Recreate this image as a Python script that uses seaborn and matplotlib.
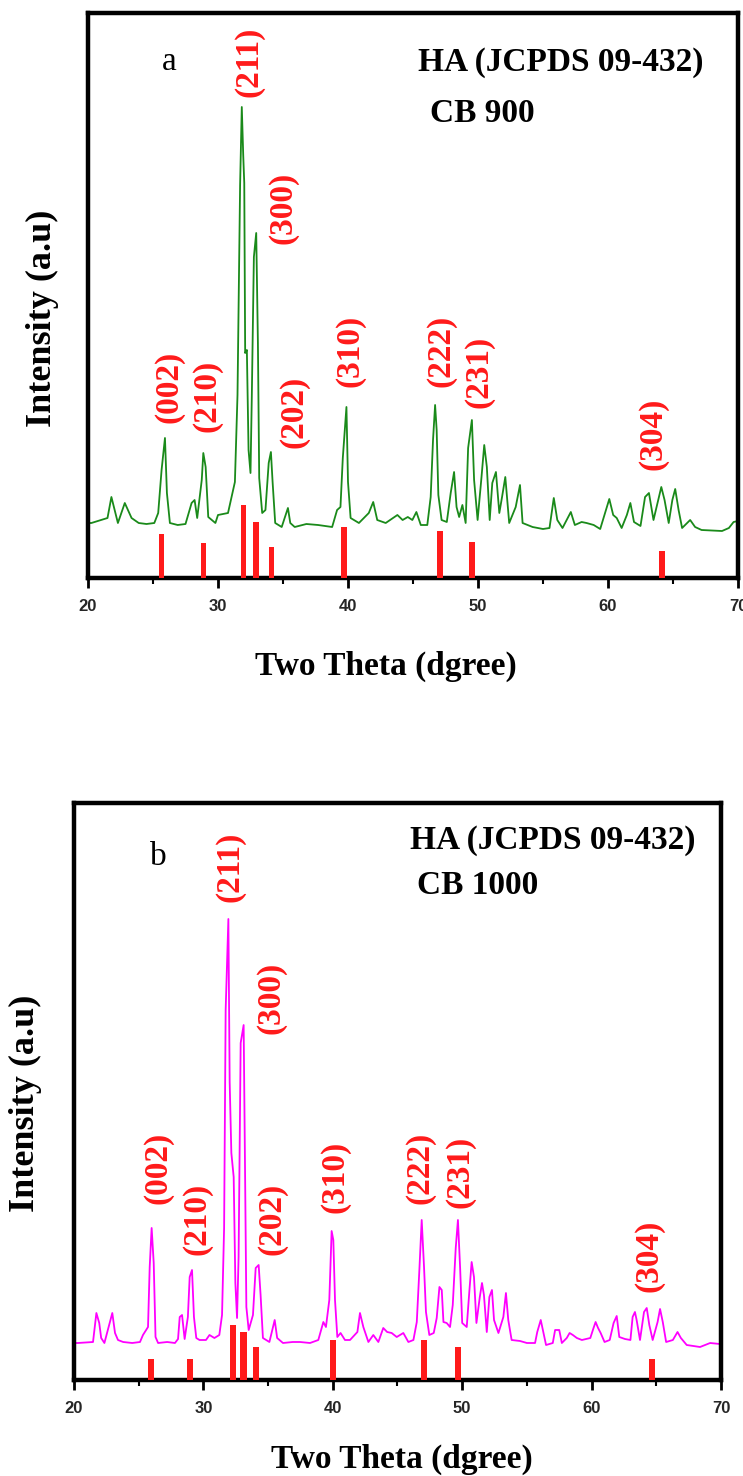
import matplotlib
matplotlib.use("Agg")
import matplotlib.pyplot as plt
from matplotlib.ticker import MultipleLocator
import matplotlib.font_manager as fm
import seaborn as sns

# ---- data (2theta, intensity in arbitrary units) ----
two_theta_a = [20.0, 20.26, 21.5, 21.8, 22.3, 22.83, 23.35, 23.9, 24.5, 25.1, 25.4, 25.66, 25.92, 26.07, 26.3,
               26.9, 27.5, 27.97, 28.2, 28.4, 28.75, 28.87, 29.05, 29.25, 29.8, 30.0, 30.77, 31.3, 31.5, 31.7,
               31.83, 31.94, 32.02, 32.09, 32.22, 32.35, 32.5, 32.6, 32.76, 32.94, 33.07, 33.17, 33.4, 33.65,
               33.9, 34.07, 34.2, 34.4, 34.9, 35.38, 35.56, 35.9, 36.8, 37.7, 38.78, 39.16, 39.42, 39.6, 39.88,
               40.0, 40.2, 40.84, 41.6, 41.94, 42.25, 42.9, 43.8, 44.2, 44.6, 44.95, 45.26, 45.6, 46.1, 46.36,
               46.54, 46.7, 46.82, 46.95, 47.2, 47.6, 47.9, 48.16, 48.35, 48.55, 48.8, 49.05, 49.24, 49.53,
               49.7, 49.97, 50.27, 50.48, 50.68, 50.9, 51.1, 51.38, 51.64, 51.85, 52.1, 52.4, 52.9, 53.23,
               53.43, 54.2, 55.0, 55.5, 55.83, 56.1, 56.5, 57.14, 57.45, 57.97, 58.35, 58.9, 59.4, 59.8, 60.1,
               60.4, 60.67, 61.05, 61.45, 61.72, 62.0, 62.5, 62.85, 63.15, 63.5, 63.9, 64.1, 64.35, 64.67,
               64.95, 65.17, 65.43, 65.7, 66.32, 66.7, 67.2, 68.77, 69.3, 69.66, 70.0]
intensity_a = [55, 55, 60, 81, 55, 75, 60, 55, 54, 55, 65, 108, 140, 85, 55,
               53, 54, 75, 78, 60, 98, 125, 111, 61, 55, 63, 65, 96, 183, 393,
               471, 423, 395, 225, 228, 128, 105, 181, 321, 345, 235, 100, 65, 68,
               115, 126, 96, 55, 51, 70, 55, 51, 54, 53, 51, 68, 71, 120, 171,
               96, 60, 55, 65, 76, 58, 55, 63, 58, 61, 58, 66, 53, 53, 81,
               138, 173, 148, 83, 58, 56, 85, 106, 71, 61, 73, 55, 130, 158,
               98, 58, 101, 133, 111, 58, 95, 106, 65, 81, 101, 55, 71, 93,
               55, 51, 49, 50, 80, 58, 50, 66, 53, 56, 55, 53, 49, 66, 79,
               63, 60, 50, 63, 75, 56, 52, 81, 85, 58, 80, 91, 78, 55,
               78, 89, 68, 50, 58, 51, 48, 47, 50, 56, 57]

two_theta_b = [20.0, 20.3, 21.47, 21.73, 21.95, 22.1, 22.35, 22.76, 22.96, 23.17, 23.4, 23.8, 24.5, 25.1,
               25.33, 25.72, 25.85, 26.0, 26.16, 26.3, 26.5, 27.2, 27.8, 28.04, 28.17, 28.35, 28.55, 28.8,
               28.94, 29.12, 29.27, 29.45, 29.7, 30.2, 30.47, 30.85, 31.23, 31.44, 31.6, 31.72, 31.93, 32.03,
               32.16, 32.34, 32.47, 32.6, 32.72, 32.88, 33.11, 33.21, 33.32, 33.5, 33.83, 34.04, 34.27, 34.42,
               34.6, 35.1, 35.51, 35.7, 36.15, 36.9, 37.47, 38.24, 38.88, 39.27, 39.47, 39.73, 39.91, 40.04,
               40.17, 40.35, 40.6, 40.94, 41.33, 41.9, 42.1, 42.36, 42.75, 43.13, 43.52, 43.9, 44.2, 44.55,
               44.94, 45.45, 45.84, 46.23, 46.49, 46.69, 46.87, 47.05, 47.2, 47.46, 47.8, 48.03, 48.24, 48.42,
               48.55, 48.8, 49.06, 49.27, 49.5, 49.67, 49.84, 50.0, 50.35, 50.56, 50.73, 50.91, 51.1, 51.36,
               51.53, 51.68, 51.9, 52.1, 52.3, 52.46, 52.8, 53.18, 53.38, 53.56, 53.82, 54.47, 55.0, 55.63,
               55.8, 56.07, 56.27, 56.48, 57.0, 57.18, 57.5, 57.7, 58.08, 58.3, 58.55, 58.86, 59.25, 59.9,
               60.15, 60.31, 60.5, 60.7, 61.0, 61.4, 61.7, 61.94, 62.14, 62.58, 63.0, 63.17, 63.35, 63.48,
               63.74, 64.05, 64.26, 64.46, 64.72, 65.1, 65.29, 65.5, 65.76, 66.28, 66.64, 66.9, 67.35, 68.38,
               69.16, 69.92]
intensity_b = [37, 37, 38, 67, 57, 42, 37, 57, 67, 47, 40, 38, 37, 38,
               45, 53, 113, 152, 117, 43, 37, 38, 37, 41, 63, 65, 41, 63,
               103, 110, 63, 42, 40, 40, 45, 42, 45, 65, 152, 370, 461, 298,
               227, 203, 97, 62, 123, 337, 355, 220, 73, 50, 65, 112, 115, 85,
               42, 38, 60, 42, 37, 38, 38, 37, 40, 58, 53, 80, 149, 140,
               80, 43, 47, 40, 40, 48, 67, 53, 38, 45, 38, 52, 48, 47,
               43, 47, 38, 40, 58, 110, 160, 113, 68, 45, 47, 62, 93, 90,
               58, 57, 53, 75, 132, 160, 112, 57, 53, 90, 118, 103, 57, 83,
               97, 85, 48, 83, 90, 60, 47, 63, 87, 60, 40, 39, 37, 37,
               48, 60, 48, 35, 37, 50, 50, 37, 42, 47, 45, 42, 40, 42,
               52, 58, 52, 47, 38, 40, 57, 64, 43, 41, 40, 63, 68, 60,
               40, 68, 72, 55, 40, 58, 71, 58, 38, 40, 48, 42, 35, 33,
               37, 36]

# JCPDS 09-432 reference lines as drawn in each panel
hkl = ["(002)", "(210)", "(211)", "(300)", "(202)", "(310)", "(222)", "(231)", "(304)"]
ref_pos_a = [25.66, 28.87, 31.96, 32.94, 34.1, 39.68, 47.06, 49.53, 64.14]
ref_h_a = [44, 35, 73, 56, 31, 51, 47, 36, 27]
ref_pos_b = [25.97, 28.94, 32.29, 33.1, 34.09, 40.04, 47.05, 49.7, 64.64]
ref_h_b = [21, 21, 55, 48, 33, 40, 40, 33, 21]

# where the hkl labels sit (centre, data coords)
lab_xy_a = [(26.23, 191), (29.15, 182), (32.38, 516), (35.0, 370), (35.85, 166),
            (40.12, 227), (47.15, 227), (50.08, 206), (63.46, 144)]
lab_xy_b = [(26.48, 212), (29.5, 161), (32.06, 513), (35.22, 382), (35.28, 161),
            (40.15, 203), (46.74, 212), (49.83, 208), (64.44, 124)]

sns.set_theme(style="white")
serif = "Liberation Serif"
names = {f.name for f in fm.fontManager.ttflist}
tick_font = "Liberation Sans Narrow" if "Liberation Sans Narrow" in names else "Liberation Sans"
plt.rcParams["font.family"] = [serif, "DejaVu Serif"]

W, H = 743, 1476
fig = plt.figure(figsize=(W / 100, H / 100), dpi=100)
fig.patch.set_facecolor("white")

RED = "#ff1a1a"


def make_panel(rect, x, y, color, ref_pos, ref_h, bar_w, lab_xy, ylim, letter, sample, txt_px, ylab_xy, xlab_xy):
    ax = fig.add_axes(rect)
    ax.set_facecolor("white")
    ax.bar(ref_pos, ref_h, width=bar_w, color=RED, linewidth=0, zorder=3)
    sns.lineplot(x=x, y=y, ax=ax, color=color, linewidth=1.3, estimator=None, sort=False, zorder=2)
    ax.set_xlim(20, 70)
    ax.set_ylim(0, ylim)
    ax.set_yticks([])
    ax.xaxis.set_major_locator(MultipleLocator(10))
    ax.xaxis.set_minor_locator(MultipleLocator(5))
    ax.tick_params(axis="x", which="major", direction="out", length=7, width=2, pad=8,
                   bottom=True, color="black")
    ax.tick_params(axis="x", which="minor", direction="out", length=4, width=1.5, bottom=True, color="black")
    for lab in ax.get_xticklabels():
        lab.set_fontfamily(tick_font)
        lab.set_fontweight("bold")
        lab.set_fontsize(12)
    for sp in ax.spines.values():
        sp.set_visible(True)
        sp.set_color("black")
        sp.set_linewidth(3.2)
    for name, (lx, ly) in zip(hkl, lab_xy):
        ax.text(lx, ly, name, rotation=90, color=RED, fontsize=24, fontweight="bold",
                ha="center", va="center", zorder=4)
    ax.set_ylabel("Intensity (a.u)", fontsize=26, fontweight="bold", color="black")
    ax.yaxis.set_label_coords(*ylab_xy)
    ax.set_xlabel("Two Theta (dgree)", fontsize=24, fontweight="bold", color="black")
    ax.xaxis.set_label_coords(*xlab_xy)
    (lx, ly), (hx, hy), (cx, cy) = txt_px
    fig.text(lx / W, 1 - ly / H, letter, fontsize=24, ha="center", va="baseline", color="black")
    fig.text(hx / W, 1 - hy / H, "HA (JCPDS 09-432)", fontsize=24, fontweight="bold",
             ha="left", va="center", color="black")
    fig.text(cx / W, 1 - cy / H, sample, fontsize=24, fontweight="bold",
             ha="left", va="center", color="black")
    return ax


make_panel([88 / W, 1 - 578 / H, 650 / W, 565 / H], two_theta_a, intensity_a, "#1a8a1a",
           ref_pos_a, ref_h_a, 0.42, lab_xy_a, 565, "a", "CB 900",
           [(169, 70), (418, 62), (430, 113)], (-0.045, 0.46), (0.458, -0.129))
make_panel([74 / W, 1 - 1380 / H, 647 / W, 577 / H], two_theta_b, intensity_b, "#ff00ff",
           ref_pos_b, ref_h_b, 0.48, lab_xy_b, 577, "b", "CB 1000",
           [(158, 865), (410, 841), (417, 885)], (-0.05, 0.48), (0.507, -0.11))

fig.savefig("out.png", dpi=100, facecolor="white")
